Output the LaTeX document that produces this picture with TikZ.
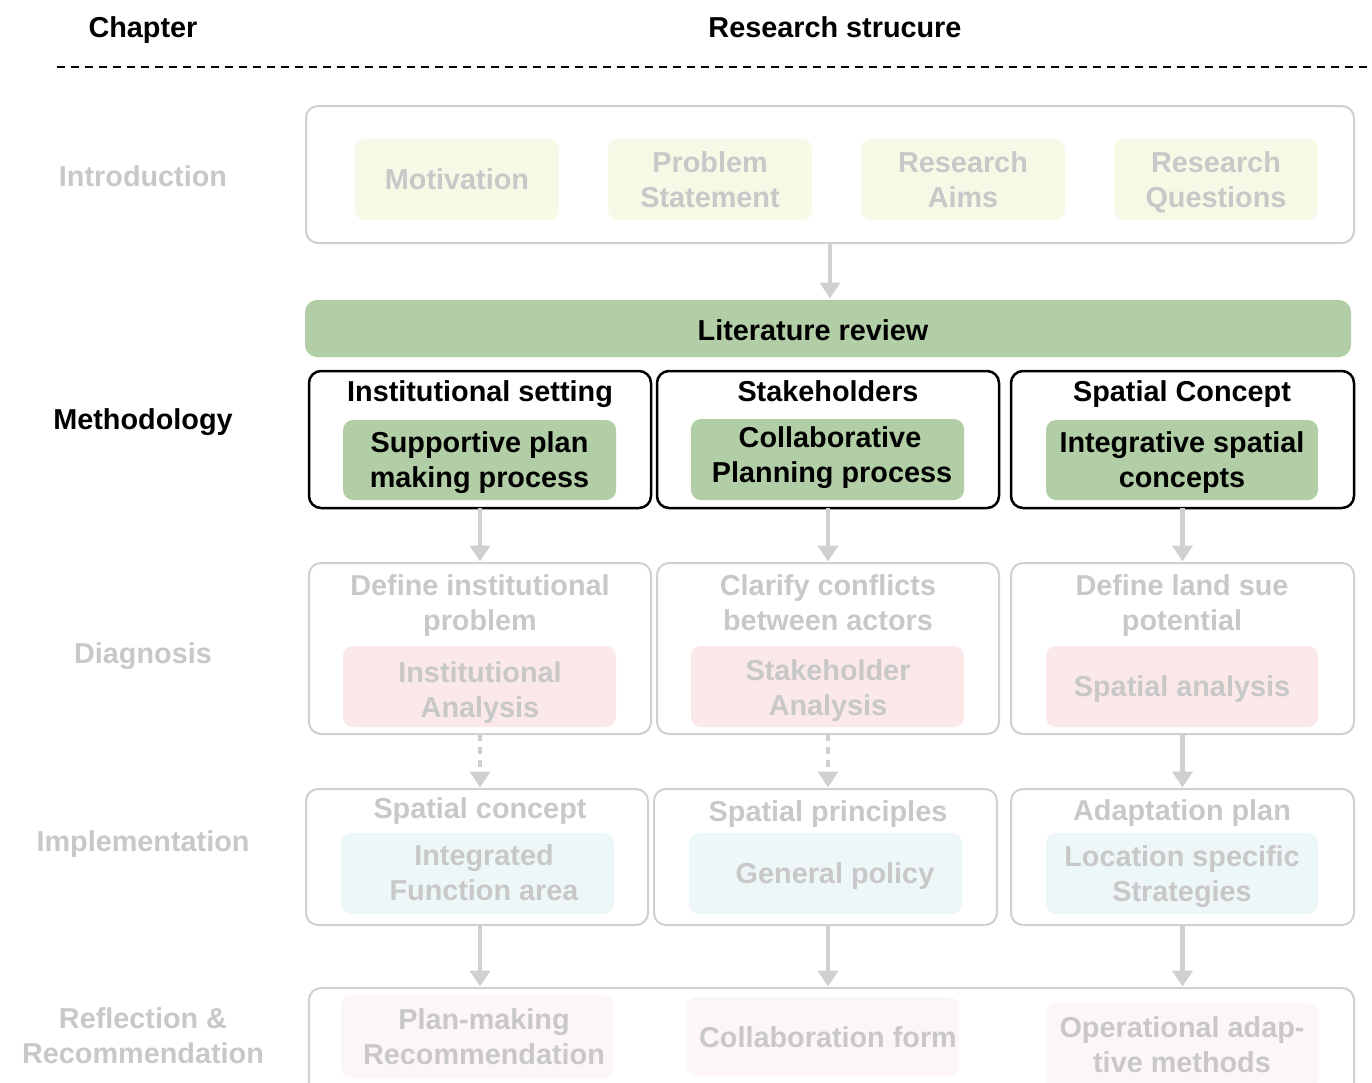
\documentclass[tikz,border=0pt]{standalone}
\usepackage{fontspec}
\setmainfont{Liberation Sans}
\usetikzlibrary{arrows.meta}
\definecolor{gline}{HTML}{D0D0D0}
\definecolor{gtext}{HTML}{C8C8C8}
\definecolor{garr}{HTML}{D0D0D0}
\definecolor{yfill}{HTML}{F7F9E7}
\definecolor{pfill}{HTML}{FBE8E8}
\definecolor{cfill}{HTML}{EEF7F7}
\definecolor{lpfill}{HTML}{FDF6F6}
\definecolor{gfill}{HTML}{B2CEA6}
\newcommand{\bx}[7]{\node[#6, minimum width={(#4-#2)*0.02cm}, minimum height={(#5-#3)*0.02cm}] (#1) at ({(#2+#4)/2},{(#3+#5)/2}) {#7};}
\newcommand{\mystrut}{\rule[-4.15pt]{0pt}{20pt}}
\tikzset{
  txt/.style={font=\fontsize{16.4}{20}\selectfont\bfseries, align=center, inner sep=0pt,
    execute at begin node=\mystrut, execute at end node=\mystrut},
  blacktxt/.style={txt, text=black},
  graytxt/.style={txt, text=gtext},
  outergray/.style={draw=gline, line width=0.04cm, rounded corners=0.24cm, inner sep=0pt, outer sep=0pt},
  outerblack/.style={draw=black, line width=0.05cm, rounded corners=0.24cm, inner sep=0pt, outer sep=0pt},
  inbox/.style={rounded corners=0.2cm, inner sep=0pt, outer sep=0pt, txt},
  garrow/.style={draw=garr, line width=0.09cm, -{Triangle[width=0.4cm,length=0.32cm]}, shorten >=0.03cm},
  gdash/.style={garrow, dash pattern=on 0.14cm off 0.12cm},
}
\begin{document}
\begin{tikzpicture}[x=0.02cm,y=-0.02cm]
\useasboundingbox (0,0) rectangle (1372,1082);
% header
\node[blacktxt] (hchap) at (143,27) {Chapter};
\node[blacktxt] (hres) at (835,27) {Research strucure};
\coordinate (dl) at (57,67);
\coordinate (dr) at (1372,67);
\draw[line width=0.04cm, dash pattern=on 0.17cm off 0.11cm] (dl) -- (dr);
% left labels
\node[graytxt] (lintro) at (143,176) {Introduction};
\node[blacktxt] (lmeth) at (143,419) {Methodology};
\node[graytxt] (ldiag) at (143,653) {Diagnosis};
\node[graytxt] (limpl) at (143,841) {Implementation};
\node[graytxt] (lrefl) at (143,1036) {\mystrut Reflection \&\\Recommendation};
% introduction
\bx{intro}{306}{106}{1354}{243}{outergray}{}
\bx{mot}{355}{139}{559}{220}{inbox, fill=yfill, text=gtext}{Motivation}
\bx{prob}{608}{139}{812}{220}{inbox, fill=yfill, text=gtext}{\mystrut Problem\\Statement}
\bx{aims}{861}{139}{1065}{220}{inbox, fill=yfill, text=gtext}{\mystrut Research\\Aims}
\bx{rq}{1114}{139}{1318}{220}{inbox, fill=yfill, text=gtext}{\mystrut Research\\Questions}
% literature
\bx{lit}{305}{300}{1351}{357}{inbox, fill=gfill, text=black, rounded corners=0.24cm}{}
\node[blacktxt] (litt) at (813,330) {Literature review};
% methodology
\bx{m1}{309}{371}{651}{508}{outerblack}{}
\bx{m2}{657}{371}{999}{508}{outerblack}{}
\bx{m3}{1011}{371}{1354}{508}{outerblack}{}
\node[blacktxt] (m1t) at (480,391) {Institutional setting};
\node[blacktxt] (m2t) at (828,391) {Stakeholders};
\node[blacktxt] (m3t) at (1182,391) {Spatial Concept};
\bx{m1i}{343}{420}{616}{500}{inbox, fill=gfill, text=black}{\mystrut Supportive plan\\making process}
\bx{m2i}{691}{419}{964}{500}{inbox, fill=gfill, text=black}{}
\node[blacktxt] (m2it) at (830,455) {\mystrut Collaborative\\\hspace*{0.08cm}Planning process};
\bx{m3i}{1046}{420}{1318}{500}{inbox, fill=gfill, text=black}{\mystrut Integrative spatial\\concepts}
% diagnosis
\bx{d1}{309}{563}{651}{734}{outergray}{}
\bx{d2}{657}{563}{999}{734}{outergray}{}
\bx{d3}{1011}{563}{1354}{734}{outergray}{}
\node[graytxt] (d1t) at (480,603) {\mystrut Define institutional\\problem};
\node[graytxt] (d2t) at (828,603) {\mystrut Clarify conflicts\\between actors};
\node[graytxt] (d3t) at (1182,603) {\mystrut Define land sue\\potential};
\bx{d1i}{343}{646}{616}{727}{inbox, fill=pfill, text=gtext}{}
\node[graytxt] (d1it) at (480,690) {\mystrut Institutional\\Analysis};
\bx{d2i}{691}{646}{964}{727}{inbox, fill=pfill, text=gtext}{}
\node[graytxt] (d2it) at (828,688) {\mystrut Stakeholder\\Analysis};
\bx{d3i}{1046}{646}{1318}{727}{inbox, fill=pfill, text=gtext}{Spatial analysis}
% implementation
\bx{i1}{306}{789}{648}{925}{outergray}{}
\bx{i2}{654}{789}{997}{925}{outergray}{}
\bx{i3}{1011}{789}{1354}{925}{outergray}{}
\node[graytxt] (i1t) at (480,808) {Spatial concept};
\node[graytxt] (i2t) at (828,811) {Spatial principles};
\node[graytxt] (i3t) at (1182,810) {Adaptation plan};
\bx{i1i}{341}{833}{614}{914}{inbox, fill=cfill, text=gtext}{}
\node[graytxt] (i1it) at (484,873) {\mystrut Integrated\\Function area};
\bx{i2i}{689}{833}{962}{914}{inbox, fill=cfill, text=gtext}{}
\node[graytxt] (i2it) at (835,873) {General policy};
\bx{i3i}{1046}{833}{1318}{914}{inbox, fill=cfill, text=gtext}{\mystrut Location specific\\Strategies}
% reflection
\bx{refl}{309}{988}{1354}{1096}{outergray}{}
\bx{r1}{341}{995}{613}{1078}{inbox, fill=lpfill, text=gtext}{}
\node[graytxt] (r1t) at (484,1037) {\mystrut Plan-making\\Recommendation};
\bx{r2}{686}{997}{959}{1076}{inbox, fill=lpfill, text=gtext}{}
\node[graytxt] (r2t) at (828,1037) {Collaboration form};
\bx{r3}{1046}{1003}{1318}{1090}{inbox, fill=lpfill, text=gtext}{}
\node[graytxt] (r3t) at (1182,1045) {\mystrut Operational adap-\\tive methods};
% arrows
\draw[garrow] (intro.south) -- (intro.south |- lit.north);
\draw[garrow] (m1.south) -- (d1.north);
\draw[garrow] (m2.south) -- (d2.north);
\draw[garrow] (m3.south) -- (d3.north);
\draw[gdash] (d1.south) -- (d1.south |- i1.north);
\draw[gdash] (d2.south) -- (d2.south |- i2.north);
\draw[garrow] (d3.south) -- (i3.north);
\draw[garrow] (d1.south |- i1.south) -- (d1.south |- refl.north);
\draw[garrow] (d2.south |- i2.south) -- (d2.south |- refl.north);
\draw[garrow] (i3.south) -- (i3.south |- refl.north);
\end{tikzpicture}
\end{document}
